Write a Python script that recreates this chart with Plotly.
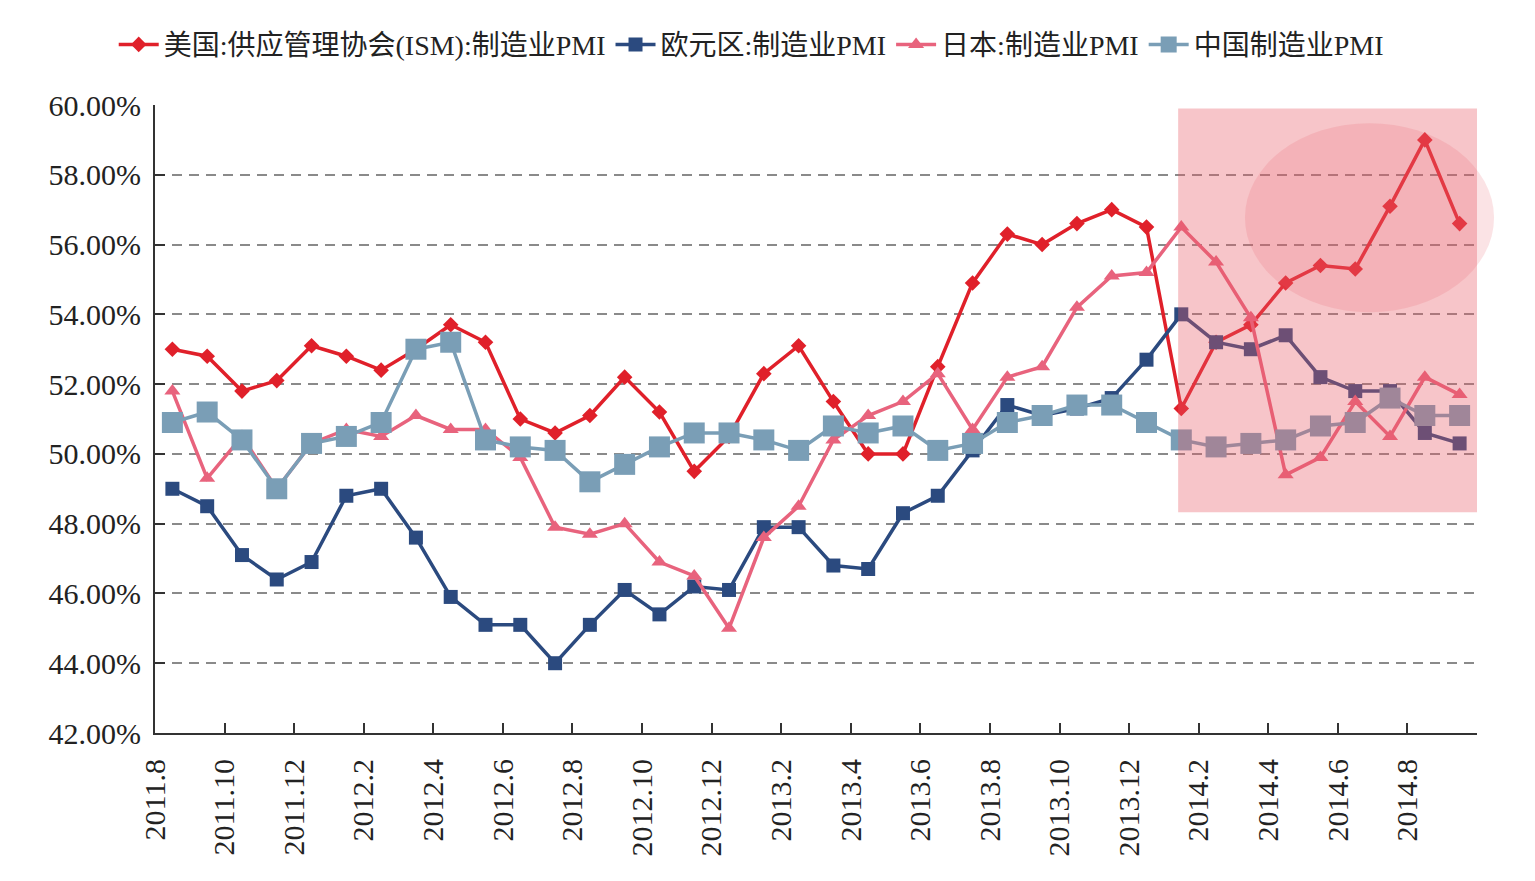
import plotly.graph_objects as go

# ---------------- data ----------------
months = ["2011.8", "2011.9", "2011.10", "2011.11", "2011.12",
          "2012.1", "2012.2", "2012.3", "2012.4", "2012.5", "2012.6", "2012.7",
          "2012.8", "2012.9", "2012.10", "2012.11", "2012.12",
          "2013.1", "2013.2", "2013.3", "2013.4", "2013.5", "2013.6", "2013.7",
          "2013.8", "2013.9", "2013.10", "2013.11", "2013.12",
          "2014.1", "2014.2", "2014.3", "2014.4", "2014.5", "2014.6", "2014.7",
          "2014.8", "2014.9"]

us_ism = [53.0, 52.8, 51.8, 52.1, 53.1, 52.8, 52.4, 53.0, 53.7, 53.2,
          51.0, 50.6, 51.1, 52.2, 51.2, 49.5, 50.5, 52.3, 53.1,
          51.5, 50.0, 50.0, 52.5, 54.9, 56.3, 56.0, 56.6, 57.0, 56.5,
          51.3, 53.2, 53.7, 54.9, 55.4, 55.3, 57.1, 59.0, 56.6]

euro_pmi = [49.0, 48.5, 47.1, 46.4, 46.9, 48.8, 49.0, 47.6, 45.9, 45.1,
            45.1, 44.0, 45.1, 46.1, 45.4, 46.2, 46.1, 47.9, 47.9,
            46.8, 46.7, 48.3, 48.8, 50.1, 51.4, 51.1, 51.3, 51.6, 52.7,
            54.0, 53.2, 53.0, 53.4, 52.2, 51.8, 51.8, 50.6, 50.3]

japan_pmi = [51.8, 49.3, 50.5, 49.0, 50.3, 50.7, 50.5, 51.1, 50.7, 50.7,
             49.9, 47.9, 47.7, 48.0, 46.9, 46.5, 45.0, 47.6, 48.5,
             50.4, 51.1, 51.5, 52.3, 50.7, 52.2, 52.5, 54.2, 55.1, 55.2,
             56.5, 55.5, 53.9, 49.4, 49.9, 51.5, 50.5, 52.2, 51.7]

china_pmi = [50.9, 51.2, 50.4, 49.0, 50.3, 50.5, 50.9, 53.0, 53.2, 50.4,
             50.2, 50.1, 49.2, 49.7, 50.2, 50.6, 50.6, 50.4, 50.1,
             50.8, 50.6, 50.8, 50.1, 50.3, 50.9, 51.1, 51.4, 51.4, 50.9,
             50.4, 50.2, 50.3, 50.4, 50.8, 50.9, 51.6, 51.1, 51.1]

series_names = ["美国:供应管理协会(ISM):制造业PMI", "欧元区:制造业PMI",
                "日本:制造业PMI", "中国制造业PMI"]

tick_labels = months[::2]

# ---------------- styling ----------------
SERIF = "Liberation Serif, Times New Roman, Noto Sans CJK SC, serif"
X_RANGE = [0, len(months)]
Y_RANGE = [42, 60]

xpos = [i + 0.5 for i in range(len(months))]

styles = [
    dict(color="#E0202A", symbol="diamond", size=12, width=3.5),
    dict(color="#2B4A7F", symbol="square", size=14, width=3.5),
    dict(color="#E8637D", symbol="triangle-up", size=14, width=3.5),
    dict(color="#7A9EB6", symbol="square", size=21, width=3.5),
]
values = [us_ism, euro_pmi, japan_pmi, china_pmi]

fig = go.Figure()
for name, vals, st in zip(series_names, values, styles):
    fig.add_trace(go.Scatter(
        x=xpos, y=vals, name=name, mode="lines+markers",
        line=dict(color=st["color"], width=st["width"]),
        marker=dict(color=st["color"], symbol=st["symbol"], size=st["size"],
                    line=dict(width=0)),
        hoverinfo="x+y",
    ))

# highlight areas (defined in data units, converted to paper)
def px(u):
    return (u - X_RANGE[0]) / (X_RANGE[1] - X_RANGE[0])

def py(v):
    return (v - Y_RANGE[0]) / (Y_RANGE[1] - Y_RANGE[0])

rect_x = (29.41, 38.0)
rect_y = (48.33, 59.9)
ell_x = (31.33, 38.49)
ell_y = (54.06, 59.48)

fig.add_shape(type="rect", xref="paper", yref="paper",
              x0=px(rect_x[0]), x1=px(rect_x[1]), y0=py(rect_y[0]), y1=py(rect_y[1]),
              fillcolor="rgba(232,90,100,0.35)", line=dict(width=0), layer="above")
fig.add_shape(type="circle", xref="paper", yref="paper",
              x0=px(ell_x[0]), x1=px(ell_x[1]), y0=py(ell_y[0]), y1=py(ell_y[1]),
              fillcolor="rgba(232,90,100,0.17)", line=dict(width=0), layer="above")

fig.update_layout(
    width=1535, height=881,
    margin=dict(l=155, r=58, t=105, b=148),
    paper_bgcolor="white", plot_bgcolor="white",
    font=dict(family=SERIF, size=30, color="#222222"),
    showlegend=True,
    legend=dict(orientation="h", x=0.451, xanchor="center", y=1.096, yanchor="middle",
                font=dict(family=SERIF, size=28, color="#222222"),
                bgcolor="rgba(0,0,0,0)", itemwidth=40, tracegroupgap=0),
)

fig.update_xaxes(
    range=X_RANGE, tickmode="array",
    tickvals=list(range(0, len(months), 2)), ticktext=tick_labels,
    tickangle=-90, ticks="inside", ticklen=10, tickwidth=2, tickcolor="#333333",
    showline=True, linewidth=2, linecolor="#333333", showgrid=False, zeroline=False,
    tickfont=dict(family=SERIF, size=30, color="#222222"),
    ticklabelstandoff=12,
)
fig.update_yaxes(
    range=Y_RANGE, dtick=2, tick0=42, tickformat=".2f", ticksuffix="%",
    ticks="inside", ticklen=10, tickwidth=2, tickcolor="#333333",
    showline=True, linewidth=2, linecolor="#333333",
    showgrid=True, gridcolor="#8a8a8a", gridwidth=1.5, griddash="10px,7px",
    zeroline=False,
    tickfont=dict(family=SERIF, size=30, color="#222222"),
    ticklabelstandoff=6,
)

fig.write_html("out.html")
